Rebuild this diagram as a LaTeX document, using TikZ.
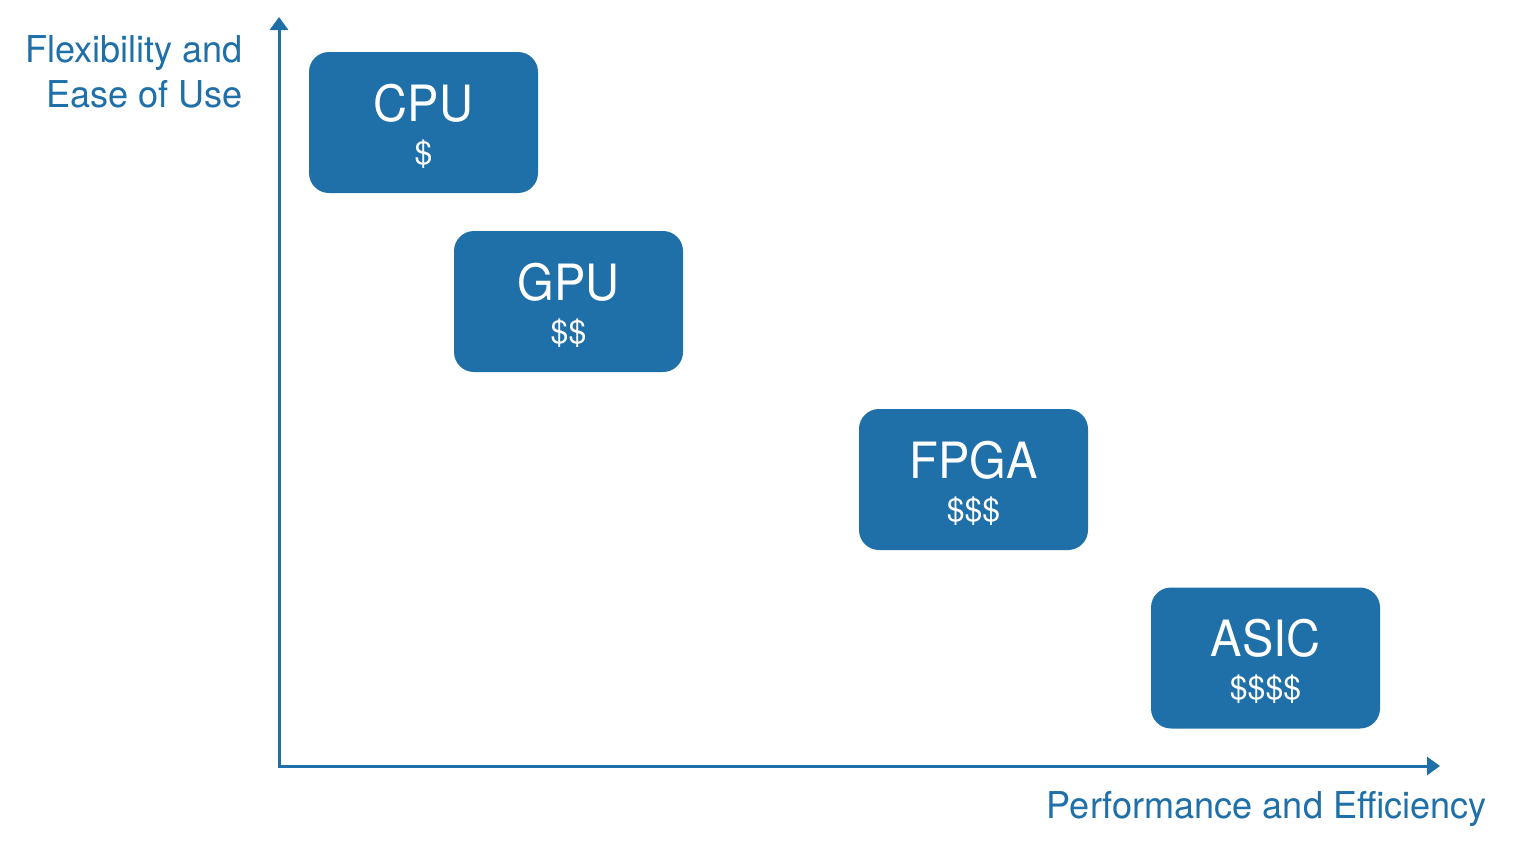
\documentclass[tikz,border=0pt]{standalone}
\usepackage{fontspec}
\setmainfont{TeX Gyre Heros}
\newfontfamily\chipfont{TeX Gyre Heros}[FakeStretch=0.94]
\newfontfamily\axfont{TeX Gyre Heros}[FakeStretch=0.975]
\usetikzlibrary{arrows.meta}
\definecolor{axblue}{RGB}{31,111,168}
\tikzset{
  chip/.style={fill=axblue, rounded corners=20pt, minimum width=229pt, minimum height=141pt, inner sep=0pt},
  chipname/.style={text=white, font=\chipfont\fontsize{50}{50}\selectfont, anchor=base},
  chipcost/.style={text=white, font=\fontsize{32}{32}\selectfont, anchor=base},
  axis/.style={draw=axblue, line width=3pt, -{Triangle[length=13pt,width=18pt]}},
  axlabel/.style={text=axblue, font=\axfont\fontsize{37}{45}\selectfont, inner sep=0pt}
}
\begin{document}
\begin{tikzpicture}[x=1pt,y=-1pt]
\useasboundingbox (0,0) rectangle (1516,847);
\coordinate (origin) at (279,766);
\coordinate (ytop) at (279,17);
\coordinate (xend) at (1440,766);
\draw[axis] (279,767.5) -- (ytop);
\draw[axis] (277.5,766) -- (xend);
\node[chip] (cpu) at (423.5,122.5) {};
\node[chip] (gpu) at (568.5,301.5) {};
\node[chip] (fpga) at (973.5,479.5) {};
\node[chip] (asic) at (1265.5,658) {};
\node[chipname] (cpuname) at (423.5,121) {CPU};
\node[chipcost] (cpucost) at (423.5,164) {\$};
\node[chipname] (gpuname) at (568.5,300) {GPU};
\node[chipcost] (gpucost) at (568.5,343) {\$\$};
\node[chipname] (fpganame) at (973.5,478) {FPGA};
\node[chipcost] (fpgacost) at (973.5,521) {\$\$\$};
\node[chipname] (asicname) at (1265.5,656) {ASIC};
\node[chipcost] (asiccost) at (1265.5,699) {\$\$\$\$};
\node[axlabel, anchor=base east] (ylab1) at (243,62) {Flexibility and};
\node[axlabel, anchor=base east] (ylab2) at (243,107) {Ease of Use};
\node[axlabel, anchor=base east] (xlab) at (1487,818) {Performance and Efficiency};
\end{tikzpicture}
\end{document}
